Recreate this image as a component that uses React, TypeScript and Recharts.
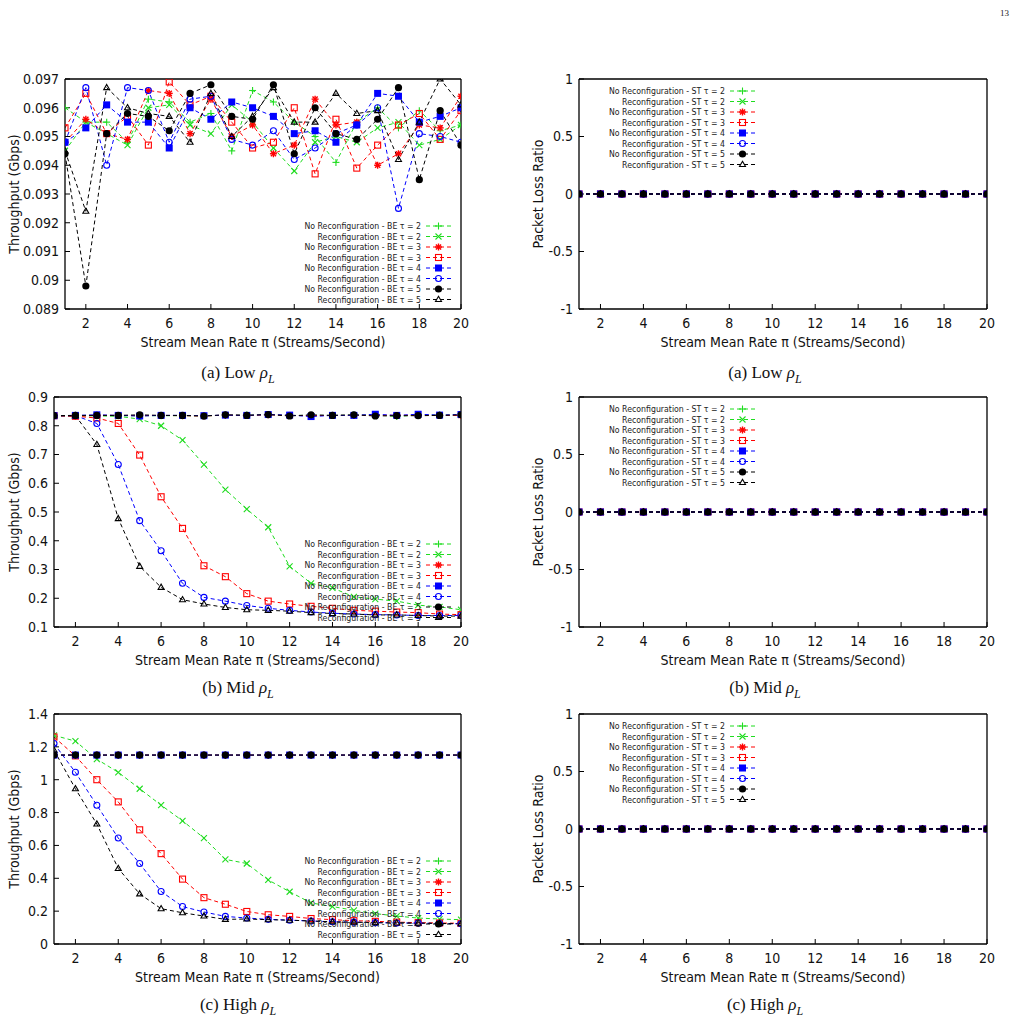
import { LineChart, Line, XAxis, YAxis, Legend } from "recharts";

// stream mean rate (x axis)
const rates = [1, 2, 3, 4, 5, 6, 7, 8, 9, 10, 11, 12, 13, 14, 15, 16, 17, 18, 19, 20];
const xTicks = [2, 4, 6, 8, 10, 12, 14, 16, 18, 20];

// low rho_L throughput (Gbps)
const lowNoReconf2 = [0.096, 0.0955, 0.0955, 0.0948, 0.0963, 0.0962, 0.0955, 0.0958, 0.0945, 0.0966, 0.0962, 0.0955, 0.095, 0.0941, 0.0955, 0.096, 0.0953, 0.0959, 0.0952, 0.0954];
const lowReconf2 = [0.0945, 0.0955, 0.0951, 0.0947, 0.096, 0.0961, 0.0954, 0.0951, 0.0961, 0.0955, 0.0946, 0.0938, 0.0948, 0.095, 0.0948, 0.0953, 0.0955, 0.0947, 0.0949, 0.0954];
const lowNoReconf3 = [0.0948, 0.0956, 0.0951, 0.0949, 0.0966, 0.0965, 0.0951, 0.0963, 0.095, 0.0954, 0.0944, 0.0947, 0.0963, 0.0954, 0.0955, 0.094, 0.0944, 0.0954, 0.0953, 0.0964];
const lowReconf3 = [0.0953, 0.0965, 0.0951, 0.0957, 0.0947, 0.0969, 0.0961, 0.0964, 0.0955, 0.0946, 0.0948, 0.096, 0.0937, 0.0956, 0.0939, 0.0947, 0.0954, 0.0958, 0.0949, 0.0959];
const lowNoReconf4 = [0.0948, 0.0953, 0.0961, 0.0955, 0.0955, 0.0946, 0.096, 0.0956, 0.0962, 0.096, 0.0957, 0.0951, 0.0952, 0.0948, 0.0954, 0.0965, 0.0964, 0.0955, 0.0957, 0.096];
const lowReconf4 = [0.0948, 0.0967, 0.094, 0.0967, 0.0966, 0.0948, 0.0963, 0.0964, 0.0949, 0.0947, 0.0952, 0.0942, 0.0946, 0.0951, 0.0954, 0.096, 0.0925, 0.0951, 0.095, 0.0948];
const lowNoReconf5 = [0.0944, 0.0898, 0.0951, 0.0958, 0.0957, 0.0952, 0.0965, 0.0968, 0.0957, 0.0956, 0.0968, 0.0944, 0.096, 0.0951, 0.0949, 0.0956, 0.0967, 0.0935, 0.0959, 0.0947];
const lowReconf5 = [0.0945, 0.0924, 0.0967, 0.096, 0.0958, 0.0957, 0.0948, 0.0965, 0.095, 0.0957, 0.0967, 0.0955, 0.0955, 0.0965, 0.0958, 0.0959, 0.0942, 0.0955, 0.097, 0.0961];

// mid rho_L throughput (Gbps)
const midNoReconf2 = [0.835, 0.835, 0.835, 0.835, 0.835, 0.835, 0.835, 0.834, 0.837, 0.837, 0.839, 0.836, 0.836, 0.836, 0.837, 0.838, 0.832, 0.838, 0.837, 0.836];
const midReconf2 = [0.835, 0.835, 0.835, 0.833, 0.823, 0.8, 0.75, 0.665, 0.578, 0.51, 0.447, 0.311, 0.252, 0.236, 0.205, 0.197, 0.19, 0.176, 0.17, 0.16];
const midNoReconf3 = [0.835, 0.834, 0.836, 0.836, 0.835, 0.836, 0.835, 0.834, 0.837, 0.836, 0.838, 0.836, 0.835, 0.836, 0.836, 0.837, 0.836, 0.837, 0.836, 0.836];
const midReconf3 = [0.835, 0.833, 0.827, 0.808, 0.698, 0.553, 0.443, 0.313, 0.275, 0.216, 0.19, 0.18, 0.172, 0.165, 0.158, 0.155, 0.152, 0.15, 0.145, 0.143];
const midNoReconf4 = [0.835, 0.836, 0.838, 0.836, 0.834, 0.836, 0.836, 0.835, 0.837, 0.836, 0.839, 0.837, 0.832, 0.836, 0.836, 0.84, 0.836, 0.84, 0.837, 0.839];
const midReconf4 = [0.835, 0.835, 0.808, 0.665, 0.47, 0.365, 0.252, 0.203, 0.19, 0.175, 0.165, 0.158, 0.152, 0.148, 0.145, 0.143, 0.142, 0.14, 0.14, 0.14];
const midNoReconf5 = [0.835, 0.836, 0.836, 0.836, 0.838, 0.836, 0.836, 0.834, 0.838, 0.836, 0.839, 0.834, 0.838, 0.836, 0.838, 0.834, 0.835, 0.835, 0.836, 0.838];
const midReconf5 = [0.835, 0.835, 0.735, 0.477, 0.311, 0.238, 0.195, 0.18, 0.168, 0.16, 0.158, 0.155, 0.15, 0.147, 0.145, 0.142, 0.142, 0.14, 0.138, 0.138];

// high rho_L throughput (Gbps)
const highNoReconf2 = [1.15, 1.15, 1.15, 1.15, 1.15, 1.15, 1.15, 1.15, 1.15, 1.15, 1.15, 1.15, 1.15, 1.15, 1.15, 1.15, 1.15, 1.15, 1.15, 1.15];
const highReconf2 = [1.27, 1.235, 1.125, 1.045, 0.945, 0.845, 0.75, 0.645, 0.515, 0.49, 0.39, 0.318, 0.25, 0.228, 0.205, 0.185, 0.17, 0.158, 0.152, 0.148];
const highNoReconf3 = [1.15, 1.15, 1.15, 1.15, 1.15, 1.15, 1.15, 1.15, 1.15, 1.15, 1.15, 1.15, 1.15, 1.15, 1.15, 1.15, 1.15, 1.15, 1.15, 1.15];
const highReconf3 = [1.26, 1.145, 1.0, 0.865, 0.695, 0.55, 0.395, 0.282, 0.242, 0.198, 0.178, 0.168, 0.155, 0.148, 0.142, 0.138, 0.133, 0.13, 0.128, 0.126];
const highNoReconf4 = [1.15, 1.15, 1.15, 1.15, 1.15, 1.15, 1.15, 1.15, 1.15, 1.15, 1.15, 1.15, 1.15, 1.15, 1.15, 1.15, 1.15, 1.15, 1.15, 1.15];
const highReconf4 = [1.22, 1.045, 0.845, 0.645, 0.49, 0.32, 0.228, 0.195, 0.168, 0.158, 0.15, 0.145, 0.14, 0.135, 0.133, 0.13, 0.128, 0.127, 0.125, 0.123];
const highNoReconf5 = [1.15, 1.15, 1.15, 1.15, 1.15, 1.15, 1.15, 1.15, 1.15, 1.15, 1.15, 1.15, 1.15, 1.15, 1.15, 1.15, 1.15, 1.15, 1.15, 1.15];
const highReconf5 = [1.18, 0.945, 0.73, 0.46, 0.305, 0.215, 0.19, 0.17, 0.15, 0.152, 0.148, 0.145, 0.14, 0.135, 0.133, 0.13, 0.128, 0.127, 0.125, 0.123];

// packet loss ratio, same for every stream type and load
const lossRatio = [0, 0, 0, 0, 0, 0, 0, 0, 0, 0, 0, 0, 0, 0, 0, 0, 0, 0, 0, 0];

const lowTicks = [0.089, 0.09, 0.091, 0.092, 0.093, 0.094, 0.095, 0.096, 0.097];
const midTicks = [0.1, 0.2, 0.3, 0.4, 0.5, 0.6, 0.7, 0.8, 0.9];
const highTicks = [0, 0.2, 0.4, 0.6, 0.8, 1, 1.2, 1.4];
const lossTicks = [-1, -0.5, 0, 0.5, 1];

const seriesKeys = ["nr2", "r2", "nr3", "r3", "nr4", "r4", "nr5", "r5"];
const seriesModes = ["No Reconfiguration", "Reconfiguration", "No Reconfiguration", "Reconfiguration", "No Reconfiguration", "Reconfiguration", "No Reconfiguration", "Reconfiguration"];
const seriesTaus = [2, 2, 3, 3, 4, 4, 5, 5];

const COLORS = ["#1fdc1f", "#1fdc1f", "#ff0000", "#ff0000", "#0000ff", "#0000ff", "#000000", "#000000"];
const SHAPES = ["plus", "cross", "star", "square", "squareFill", "circle", "circleFill", "triangle"];

const FONT = "'DejaVu Sans Condensed', 'Liberation Sans', Arial, sans-serif";

function buildRows(cols: number[][]) {
  return rates.map((n, i) => {
    const row: Record<string, number> = { n };
    seriesKeys.forEach((k, j) => {
      row[k] = cols[j][i];
    });
    return row;
  });
}

const lowRows = buildRows([lowNoReconf2, lowReconf2, lowNoReconf3, lowReconf3, lowNoReconf4, lowReconf4, lowNoReconf5, lowReconf5]);
const midRows = buildRows([midNoReconf2, midReconf2, midNoReconf3, midReconf3, midNoReconf4, midReconf4, midNoReconf5, midReconf5]);
const highRows = buildRows([highNoReconf2, highReconf2, highNoReconf3, highReconf3, highNoReconf4, highReconf4, highNoReconf5, highReconf5]);
const lossRows = buildRows([lossRatio, lossRatio, lossRatio, lossRatio, lossRatio, lossRatio, lossRatio, lossRatio]);

function Marker({ shape, color, cx, cy }: { shape: string; color: string; cx: number; cy: number }) {
  const s = 3.5;
  const w = 1.1;
  if (shape === "plus")
    return (
      <g stroke={color} strokeWidth={w}>
        <line x1={cx - s} x2={cx + s} y1={cy} y2={cy} />
        <line x1={cx} x2={cx} y1={cy - s} y2={cy + s} />
      </g>
    );
  if (shape === "cross")
    return (
      <g stroke={color} strokeWidth={w}>
        <line x1={cx - 3} x2={cx + 3} y1={cy - 3} y2={cy + 3} />
        <line x1={cx - 3} x2={cx + 3} y1={cy + 3} y2={cy - 3} />
      </g>
    );
  if (shape === "star")
    return (
      <g stroke={color} strokeWidth={1.4}>
        <line x1={cx - s} x2={cx + s} y1={cy} y2={cy} />
        <line x1={cx} x2={cx} y1={cy - s} y2={cy + s} />
        <line x1={cx - 2.6} x2={cx + 2.6} y1={cy - 2.6} y2={cy + 2.6} />
        <line x1={cx - 2.6} x2={cx + 2.6} y1={cy + 2.6} y2={cy - 2.6} />
      </g>
    );
  if (shape === "square")
    return <rect x={cx - 3} y={cy - 3} width={6} height={6} fill="none" stroke={color} strokeWidth={w} />;
  if (shape === "squareFill")
    return <rect x={cx - 3.5} y={cy - 3.5} width={7} height={7} fill={color} />;
  if (shape === "circle")
    return <circle cx={cx} cy={cy} r={3} fill="none" stroke={color} strokeWidth={w} />;
  if (shape === "circleFill")
    return <circle cx={cx} cy={cy} r={3.6} fill={color} />;
  return (
    <path
      d={`M${cx},${cy - 3.2}L${cx + 3},${cy + 2}L${cx - 3},${cy + 2}Z`}
      fill="none"
      stroke={color}
      strokeWidth={w}
    />
  );
}

// legend rows keep the plotting order, not recharts' sorted order
function LegendBox({ payload, tag }: { payload?: any[]; tag: string }) {
  const items = [...(payload || [])].sort(
    (a, b) => seriesKeys.indexOf(a.dataKey) - seriesKeys.indexOf(b.dataKey)
  );
  return (
    <svg width={200} height={90} style={{ overflow: "visible" }}>
      {items.map((item, i) => {
        const j = seriesKeys.indexOf(item.dataKey);
        const y = 5 + i * 10.5;
        return (
          <g key={item.dataKey}>
            <text
              x={165}
              y={y}
              textAnchor="end"
              dominantBaseline="central"
              fontSize={8.7}
              fontFamily={FONT}
              fill="#222"
            >
              {`${seriesModes[j]} - ${tag} τ = ${seriesTaus[j]}`}
            </text>
            <line x1={170} x2={195} y1={y} y2={y} stroke={COLORS[j]} strokeDasharray="4 3" />
            <Marker shape={SHAPES[j]} color={COLORS[j]} cx={182.5} cy={y} />
          </g>
        );
      })}
    </svg>
  );
}

const fmt = (v: number) => String(Math.round(v * 1000) / 1000);

function Panel({
  left,
  marginLeft,
  plotLeft,
  plotRight,
  plotTop,
  rows,
  yTicks,
  yTitle,
  tag,
  legendLeft,
  legendTop,
}: {
  left: number;
  marginLeft: number;
  plotLeft: number;
  plotRight: number;
  plotTop: number;
  rows: Record<string, number>[];
  yTicks: number[];
  yTitle: string;
  tag: string;
  legendLeft: number;
  legendTop: number;
}) {
  const top = plotTop - 11;
  const width = plotRight - left + 1 + 15;
  const yDomain = [yTicks[0], yTicks[yTicks.length - 1]];
  const axisStroke = { stroke: "#000", strokeWidth: 1.3 };
  return (
    <div style={{ position: "absolute", left, top }}>
      <LineChart
        width={width}
        height={291}
        data={rows}
        margin={{ top: 10, right: 15, bottom: 5, left: marginLeft }}
        style={{ fontFamily: FONT }}
      >
        <XAxis
          dataKey="n"
          type="number"
          domain={[1, 20]}
          ticks={xTicks}
          interval={0}
          height={45}
          tickSize={-5}
          tickMargin={14}
          axisLine={axisStroke}
          tickLine={{ stroke: "#000" }}
          tick={{ fontSize: 14, fill: "#111" }}
          allowDataOverflow
          label={{
            value: "Stream Mean Rate π (Streams/Second)",
            position: "insideBottom",
            offset: 7,
            fontSize: 14,
            fill: "#111",
          }}
        />
        <XAxis
          xAxisId="top"
          orientation="top"
          type="number"
          domain={[1, 20]}
          ticks={xTicks}
          interval={0}
          height={1}
          tickSize={-5}
          tick={false}
          axisLine={axisStroke}
          tickLine={{ stroke: "#000" }}
          allowDataOverflow
        />
        <YAxis
          type="number"
          domain={yDomain}
          ticks={yTicks}
          interval={0}
          width={plotLeft - left - marginLeft}
          tickSize={-5}
          tickMargin={11}
          tickFormatter={fmt}
          axisLine={axisStroke}
          tickLine={{ stroke: "#000" }}
          tick={{ fontSize: 14, fill: "#111" }}
          allowDataOverflow
          label={{
            value: yTitle,
            angle: -90,
            position: "insideLeft",
            offset: 10,
            fontSize: 14,
            fill: "#111",
            style: { textAnchor: "middle" },
          }}
        />
        <YAxis
          yAxisId="right"
          orientation="right"
          type="number"
          domain={yDomain}
          ticks={yTicks}
          interval={0}
          width={1}
          tickSize={-5}
          tick={false}
          axisLine={axisStroke}
          tickLine={{ stroke: "#000" }}
          allowDataOverflow
        />
        <Legend
          layout="horizontal"
          verticalAlign="middle"
          align="center"
          width={200}
          height={90}
          wrapperStyle={{ left: legendLeft - left, top: legendTop - top, width: 200, height: 90 }}
          content={(props: any) => <LegendBox payload={props.payload} tag={tag} />}
        />
        {seriesKeys.map((k, j) => (
          <Line
            key={k}
            dataKey={k}
            name={`${seriesModes[j]} - ${tag} τ = ${seriesTaus[j]}`}
            stroke={COLORS[j]}
            strokeWidth={1}
            strokeDasharray="4 3"
            isAnimationActive={false}
            activeDot={false}
            dot={(p: any) => (
              <Marker key={`${k}-${p.index}`} shape={SHAPES[j]} color={COLORS[j]} cx={p.cx} cy={p.cy} />
            )}
          />
        ))}
      </LineChart>
    </div>
  );
}

function Caption({ x, y, letter, level }: { x: number; y: number; letter: string; level: string }) {
  return (
    <div
      style={{
        position: "absolute",
        left: x,
        top: y,
        transform: "translate(-50%, -50%)",
        fontFamily: "'Liberation Serif', 'Times New Roman', serif",
        fontSize: 17,
        whiteSpace: "nowrap",
        color: "#111",
      }}
    >
      ({letter}) {level} <i>ρ</i>
      <sub style={{ fontSize: 12 }}>
        <i>L</i>
      </sub>
    </div>
  );
}

const rowTops = [79, 397, 714];
const captionYs = [375, 690, 1007];
const letters = ["a", "b", "c"];
const levels = ["Low", "Mid", "High"];
const throughputRows = [lowRows, midRows, highRows];
const throughputTicks = [lowTicks, midTicks, highTicks];

export default function App() {
  return (
    <div style={{ position: "absolute", left: 0, top: 0, width: 1023, height: 1021, background: "#fff", overflow: "hidden" }}>
      <div
        style={{
          position: "absolute",
          left: 1000,
          top: 8,
          fontFamily: "'Liberation Serif', serif",
          fontSize: 9,
          color: "#222",
        }}
      >
        13
      </div>
      {rowTops.map((pt, r) => (
        <div key={r}>
          <Panel
            left={0}
            marginLeft={4}
            plotLeft={r === 0 ? 65 : 54}
            plotRight={461}
            plotTop={pt}
            rows={throughputRows[r]}
            yTicks={throughputTicks[r]}
            yTitle="Throughput (Gbps)"
            tag="BE"
            legendLeft={256}
            legendTop={pt + 142}
          />
          <Panel
            left={520}
            marginLeft={8}
            plotLeft={579}
            plotRight={987}
            plotTop={pt}
            rows={lossRows}
            yTicks={lossTicks}
            yTitle="Packet Loss Ratio"
            tag="ST"
            legendLeft={560}
            legendTop={pt + 7}
          />
          <Caption x={238} y={captionYs[r]} letter={letters[r]} level={levels[r]} />
          <Caption x={765} y={captionYs[r]} letter={letters[r]} level={levels[r]} />
        </div>
      ))}
    </div>
  );
}
